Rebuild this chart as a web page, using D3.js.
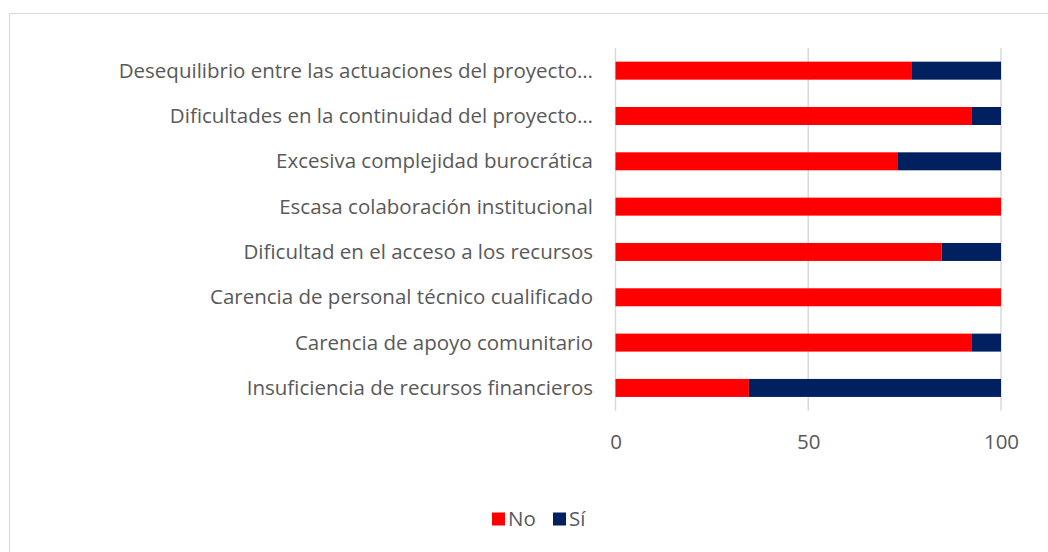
<!DOCTYPE html>
<html>
<head>
<meta charset="utf-8">
<script src="https://cdn.jsdelivr.net/npm/d3@7"></script>
<style>
  html, body { margin: 0; padding: 0; background: #fff; }
  svg { display: block; }
</style>
</head>
<body>
<svg id="chart" width="1048" height="552"></svg>
<script>
const categories = [
  "Desequilibrio entre las actuaciones del proyecto…",
  "Dificultades en la continuidad del proyecto…",
  "Excesiva complejidad burocrática",
  "Escasa colaboración institucional",
  "Dificultad en el acceso a los recursos",
  "Carencia de personal técnico cualificado",
  "Carencia de apoyo comunitario",
  "Insuficiencia de recursos financieros"
];
const seriesNames = ["No", "Sí"];
const noValues = [76.9, 92.3, 73.1, 100, 84.6, 100, 92.3, 34.6];
const siValues = [23.1, 7.7, 26.9, 0, 15.4, 0, 7.7, 65.4];
const xTicks = [0, 50, 100];
const colors = ["#FF0000", "#002060"];

const svg = d3.select("#chart");
const font = "'Open Sans', 'Liberation Sans', sans-serif";
const textColor = "#595959";
const fs = 20.5;

// outer frame
svg.append("rect")
  .attr("x", 9.5).attr("y", 13.5)
  .attr("width", 1100).attr("height", 600)
  .attr("fill", "#fff").attr("stroke", "#d9d9d9").attr("stroke-width", 1);

const x = d3.scaleLinear().domain([0, 100]).range([615.5, 1001]);
const y = d3.scaleBand().domain(categories).range([48, 410.6])
  .paddingInner(0.603).paddingOuter(0.3015);

// gridlines
svg.append("g").selectAll("line").data(xTicks).join("line")
  .attr("x1", d => x(d)).attr("x2", d => x(d))
  .attr("y1", 48).attr("y2", 410.6)
  .attr("stroke", "#d9d9d9").attr("stroke-width", 1.5);

// stacked bars
const rows = categories.map((c, i) => ({ cat: c, No: noValues[i], "Sí": siValues[i] }));
const stack = d3.stack().keys(seriesNames)(rows);
svg.append("g").selectAll("g").data(stack).join("g")
  .attr("fill", (d, i) => colors[i])
  .selectAll("rect").data(d => d).join("rect")
  .attr("x", d => x(d[0]))
  .attr("width", d => Math.max(0, x(d[1]) - x(d[0])))
  .attr("y", d => y(d.data.cat))
  .attr("height", y.bandwidth());

// category labels
svg.append("g").selectAll("text").data(categories).join("text")
  .attr("x", 593)
  .attr("y", d => y(d) + y.bandwidth() / 2)
  .attr("dy", "0.35em")
  .attr("text-anchor", "end")
  .attr("font-family", font)
  .attr("font-size", fs)
  .attr("fill", textColor)
  .text(d => d);

// x axis tick labels
const xAxis = d3.axisBottom(x).tickValues(xTicks).tickSize(0).tickPadding(0);
const gx = svg.append("g").attr("transform", "translate(0,434)").call(xAxis);
gx.select(".domain").remove();
gx.selectAll("text")
  .attr("font-family", font).attr("font-size", fs).attr("fill", textColor)
  .attr("dy", "0.71em");

// legend
const legend = svg.append("g");
const legendX = [492, 553];
seriesNames.forEach((s, i) => {
  legend.append("rect")
    .attr("x", legendX[i]).attr("y", 512.5)
    .attr("width", 13).attr("height", 13)
    .attr("fill", colors[i]);
  legend.append("text")
    .attr("x", legendX[i] + 16).attr("y", 519)
    .attr("dy", "0.35em")
    .attr("font-family", font).attr("font-size", fs)
    .attr("fill", textColor)
    .text(s);
});
</script>
</body>
</html>
